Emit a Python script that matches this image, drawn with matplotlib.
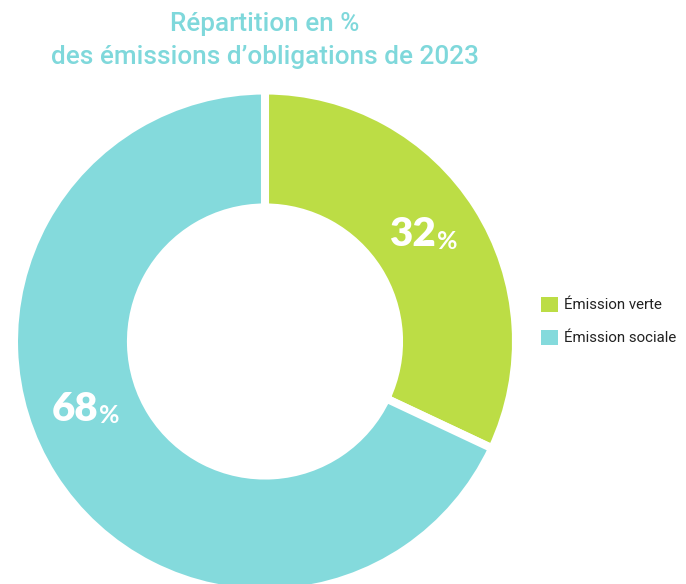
import matplotlib
matplotlib.use("Agg")
import matplotlib.pyplot as plt
import numpy as np
from matplotlib.patches import Patch

categories = ["Émission verte", "Émission sociale"]
values = [32, 68]
colors = ["#BCDD45", "#84DADC"]
title_lines = ["Répartition en %", "des émissions d\u2019obligations de 2023"]

W, H = 686, 584
fig = plt.figure(figsize=(W/100, H/100), dpi=100)
cx, cy, R = 265, 341.5, 251
ax = fig.add_axes([(cx-R)/W, (H-cy-R)/H, 2*R/W, 2*R/H])
wedges, _ = ax.pie(values, colors=colors, startangle=90, counterclock=False,
                   radius=1, wedgeprops=dict(width=0.466, edgecolor="white", linewidth=5.8))
ax.set_xlim(-1, 1)
ax.set_ylim(-1, 1)
ax.set_aspect("auto")
ax.axis("off")

# Percentage labels
label_pos = [(0.68, 0.425), (-0.665, -0.27)]
for v, (x, y) in zip(values, label_pos):
    ax.text(x, y, f"{v}", ha="right", va="center", color="white",
            fontsize=29, fontweight="heavy", family="Lato")
    ax.text(x + 0.005, y - 0.025, "%", ha="left", va="center", color="white",
            fontsize=18, fontweight="bold", family="Lato")

fig.text(cx/W, 1 - 24/H, title_lines[0], ha="center", va="center",
         color="#7FD8DB", fontsize=18.8, fontweight="medium", family="Roboto")
fig.text(cx/W, 1 - 57/H, title_lines[1], ha="center", va="center",
         color="#7FD8DB", fontsize=18.8, fontweight="medium", family="Roboto")

handles = [Patch(facecolor=c, edgecolor="none") for c in colors]
fig.legend(handles, categories, loc="center left", bbox_to_anchor=(532/W, 1 - 321/H),
           frameon=False, handlelength=1.15, handleheight=1.15,
           handletextpad=0.4, labelspacing=1.15, prop=dict(family="Roboto", size=10.8),
           labelcolor="#222222", borderaxespad=0.2)

fig.savefig("out.png", dpi=100)
